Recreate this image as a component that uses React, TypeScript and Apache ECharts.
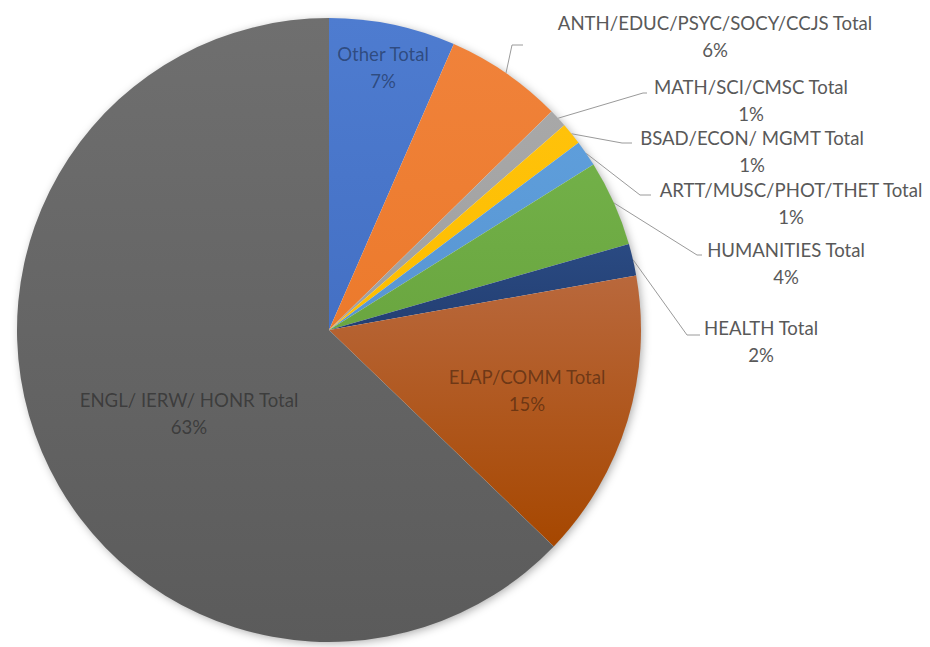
import React, { useEffect, useRef } from "react";
import * as echarts from "echarts";

const CATEGORIES = [
  "Other Total",
  "ANTH/EDUC/PSYC/SOCY/CCJS Total",
  "MATH/SCI/CMSC Total",
  "BSAD/ECON/ MGMT Total",
  "ARTT/MUSC/PHOT/THET Total",
  "HUMANITIES Total",
  "HEALTH Total",
  "ELAP/COMM Total",
  "ENGL/ IERW/ HONR Total",
];
const VALUES = [6.55, 6.1, 0.95, 1.15, 1.35, 4.45, 1.65, 15.0, 62.8];
const INSIDE = [true, false, false, false, false, false, false, true, true];

const COLORS_TOP = ["#4e7cd0", "#f0823a", "#a8a8a8", "#ffc20a", "#5e9edb", "#72b048", "#2a4a82", "#b9683c", "#6f6f6f"];
const COLORS_BOTTOM = ["#4470c4", "#ec7a2c", "#a0a0a0", "#fdbd00", "#5895d2", "#6aa640", "#233f73", "#a64700", "#5b5b5b"];

// label layout (centre x of text block, top y, leader elbow and end)
const LABEL_LAYOUT: { cx: number; top: number; elbow?: number[]; end?: number[] }[] = [
  { cx: 383, top: 40 },
  { cx: 715, top: 9, elbow: [512, 45], end: [523, 45] },
  { cx: 751, top: 73, elbow: [643, 93], end: [647, 93] },
  { cx: 752, top: 124, elbow: [622, 143], end: [632, 143] },
  { cx: 791, top: 176, elbow: [640, 195], end: [651, 195] },
  { cx: 786, top: 236, elbow: [697, 255], end: [702, 255] },
  { cx: 761, top: 314, elbow: [687, 335], end: [700, 335] },
  { cx: 527, top: 363 },
  { cx: 189, top: 386 },
];

export default function App() {
  const ref = useRef<HTMLDivElement>(null);
  useEffect(() => {
    if (!ref.current) return;
    const chart = echarts.init(ref.current, undefined, { renderer: "svg" });
    const data = CATEGORIES.map((name, i) => ({
      name,
      value: VALUES[i],
      itemStyle: {
        color: new echarts.graphic.LinearGradient(0, 0, 0, 1, [
          { offset: 0, color: COLORS_TOP[i] },
          { offset: 1, color: COLORS_BOTTOM[i] },
        ]),
      },
      label: INSIDE[i]
        ? { position: "inside", color: "rgba(0,0,0,0.4)" }
        : { position: "outside", color: "#595959" },
      labelLine: { show: !INSIDE[i] },
    }));
    chart.setOption({
      animation: false,
      backgroundColor: "#ffffff",
      series: [
        {
          type: "pie",
          silent: true,
          center: [329, 330],
          radius: 311,
          z: 1,
          label: { show: false },
          labelLine: { show: false },
          itemStyle: {
            color: "#ffffff",
            shadowBlur: 10,
            shadowColor: "rgba(0,0,0,0.35)",
            shadowOffsetX: 2,
            shadowOffsetY: 2,
          },
          data: [{ name: "bg", value: 1 }],
        },
        {
          type: "pie",
          center: [329, 330],
          radius: 312,
          startAngle: 90,
          clockwise: true,
          z: 2,
          avoidLabelOverlap: false,
          itemStyle: { borderWidth: 0 },
          label: {
            show: true,
            fontFamily: "Lato",
            fontSize: 18.6,
            lineHeight: 27,
            formatter: (p: any) => `${p.name}\n${Math.round(p.percent)}%`,
          },
          labelLine: {
            show: true,
            length: 10,
            length2: 10,
            lineStyle: { color: "#9a9a9a", width: 1 },
          },
          labelLayout: (p: any) => {
            const l = LABEL_LAYOUT[p.dataIndex];
            const out: any = { x: l.cx, y: l.top, align: "center", verticalAlign: "top" };
            if (l.elbow && p.labelLinePoints) {
              out.labelLinePoints = [p.labelLinePoints[0], l.elbow, l.end];
            }
            return out;
          },
          data,
        },
      ],
    });
    return () => chart.dispose();
  }, []);
  return (
    <div
      ref={ref}
      style={{ position: "fixed", left: 0, top: 0, width: 930, height: 647, background: "#fff" }}
    />
  );
}
